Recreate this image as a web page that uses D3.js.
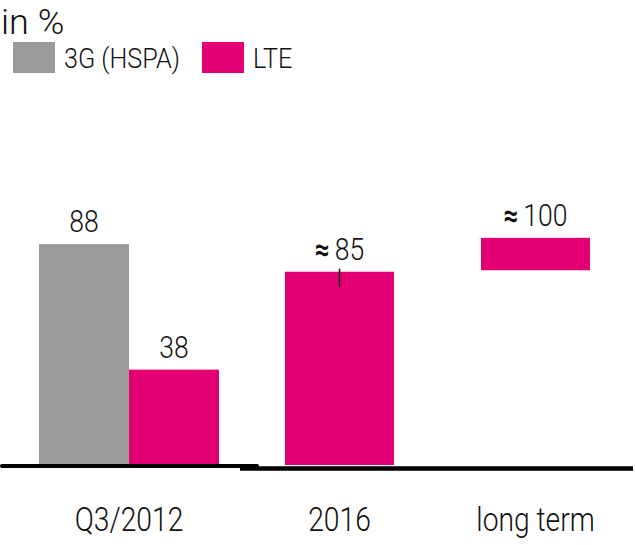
<!DOCTYPE html>
<html>
<head>
<meta charset="utf-8">
<script src="https://cdn.jsdelivr.net/npm/d3@7"></script>
<style>
  html, body { margin: 0; padding: 0; background: #fff; }
  svg { display: block; }
  text { font-family: Roboto, "Liberation Sans", sans-serif; font-weight: 300; fill: #111; }
</style>
</head>
<body>
<script>
// ---- data ----
const categories = ["Q3/2012", "2016", "long term"];
const seriesNames = ["3G (HSPA)", "LTE"];
const hspaValues = [88, null, null];
const lteLabels = [38, 85, 100];
const lteApprox = [false, true, true];
// visual extents of LTE bars as drawn in the source (not to scale for estimates)
const lteBarTop = [38, 77, 90.5];
const lteBarBase = [0, 0, 77.6];
const unitLabel = "in %";

const colors = { "3G (HSPA)": "#9b9b9b", "LTE": "#e20074" };

const W = 635, H = 545;
const svg = d3.select("body").append("svg").attr("width", W).attr("height", H);

function label(x, y, size, anchor, sx) {
  return svg.append("text")
    .attr("transform", `translate(${x},${y}) scale(${sx || 0.83},1)`)
    .attr("text-anchor", anchor || "start")
    .style("font-size", size + "px");
}

const y = d3.scaleLinear().domain([0, 100]).range([465, 214]);
const xc = d3.scaleOrdinal().domain(categories).range([129, 339.5, 535.5]);
const pairW = 90, singleW = 109;

// title
label(1, 33.5, 35, "start", 1.03).text(unitLabel);

// legend
const legendX = [13, 202];
seriesNames.forEach((s, i) => {
  svg.append("rect").attr("x", legendX[i]).attr("y", 42).attr("width", 42).attr("height", 31).attr("fill", colors[s]);
  label(legendX[i] + 51, 68, 28, "start", 0.9).text(s);
});

// bars
const rows = categories.map((c, i) => ({
  c, hspa: hspaValues[i], lteTop: lteBarTop[i], lteBase: lteBarBase[i],
  value: lteLabels[i], approx: lteApprox[i]
}));

rows.forEach(r => {
  const cx = xc(r.c);
  const hasPair = r.hspa != null;
  if (hasPair) {
    svg.append("rect").attr("x", cx - pairW).attr("y", y(r.hspa))
      .attr("width", pairW).attr("height", y(0) - y(r.hspa)).attr("fill", colors["3G (HSPA)"]);
    label(cx - pairW / 2, y(r.hspa) - 12, 32, "middle").text(r.hspa);
  }
  const lx = hasPair ? cx : cx - singleW / 2;
  const lw = hasPair ? pairW : singleW;
  svg.append("rect").attr("x", lx).attr("y", y(r.lteTop))
    .attr("width", lw).attr("height", y(r.lteBase) - y(r.lteTop)).attr("fill", colors["LTE"]);
  const t = label(lx + lw / 2, y(r.lteTop) - 12, 32, "middle");
  if (r.approx) {
    t.append("tspan").style("font-weight", "bold").style("font-size", "31px").text("\u2248");
    t.append("tspan").attr("dx", 6).text(r.value);
  } else {
    t.text(r.value);
  }
});

// small marker on 2016 bar
const cx16 = xc("2016");
svg.append("line").attr("x1", cx16).attr("x2", cx16)
  .attr("y1", y(lteBarTop[1]) - 3).attr("y2", y(lteBarTop[1]) + 15)
  .attr("stroke", "#111").attr("stroke-width", 1.5);

// baseline (two overlapping segments)
svg.append("line").attr("x1", 2).attr("x2", 257).attr("y1", 466).attr("y2", 466)
  .attr("stroke", "#000").attr("stroke-width", 4).attr("stroke-linecap", "round");
svg.append("line").attr("x1", 240).attr("x2", 633).attr("y1", 468.5).attr("y2", 468.5)
  .attr("stroke", "#000").attr("stroke-width", 4.5);

// category labels
categories.forEach(c => {
  label(xc(c), 531, 34, "middle").text(c);
});
</script>
</body>
</html>
